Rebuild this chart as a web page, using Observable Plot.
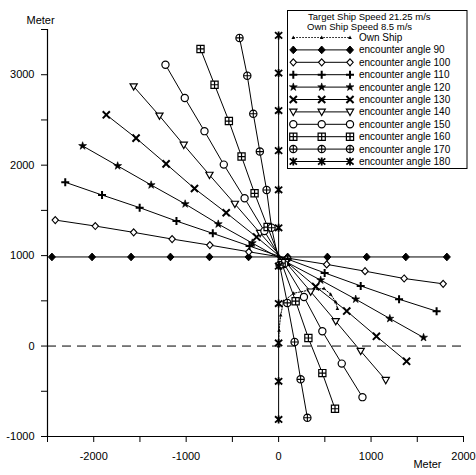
<!DOCTYPE html>
<html><head><meta charset="utf-8">
<script src="https://cdn.jsdelivr.net/npm/d3@7"></script>
<script src="https://cdn.jsdelivr.net/npm/@observablehq/plot@0.6"></script>
<style>body{margin:0;background:#fff}</style>
</head><body><div id="chart"></div>
<script>
const angles = [90,100,110,120,130,140,150,160,170,180];
const a90x = [-2452,-2018,-1596,-1170,-748,-325,98,528,953,1376,1820];
const a90y = [985,985,985,985,985,985,985,985,985,985,985];
const a100x = [-2416,-1983,-1568,-1152,-744,-322,98,520,935,1358,1780];
const a100y = [1393,1327,1257,1183,1116,1042,972,903,828,747,688];
const a110x = [-2308,-1910,-1503,-1105,-712,-314,98,498,888,1303,1709];
const a110y = [1811,1670,1530,1382,1246,1105,961,809,665,518,385];
const a120x = [-2120,-1741,-1379,-1011,-653,-285,85,455,834,1203,1568];
const a120y = [2213,1992,1781,1571,1349,1139,928,729,518,304,94];
const a130x = [-1864,-1542,-1217,-910,-567,-238,87,401,737,1058,1384];
const a130y = [2557,2299,2014,1742,1474,1205,928,657,387,108,-169];
const a140x = [-1568,-1289,-1026,-748,-473,-200,76,347,618,888,1159];
const a140y = [2870,2546,2224,1892,1571,1249,928,601,274,-55,-377];
const a150x = [-1224,-1015,-802,-593,-368,-154,60,274,473,683,907];
const a150y = [3111,2742,2376,2006,1634,1271,906,543,163,-194,-565];
const a160x = [-845,-693,-538,-401,-260,-119,33,184,322,473,610];
const a160y = [3285,2889,2488,2095,1689,1316,917,496,89,-299,-693];
const a170x = [-423,-339,-274,-203,-130,-76,11,94,173,238,311];
const a170y = [3407,2989,2568,2150,1726,1308,895,477,45,-368,-793];
const a180x = [0,0,0,0,0,0,0,0,0,0,0];
const a180y = [3435,3019,2604,2161,1728,1308,884,470,34,-390,-811];
const ownX = [0,5,22,54,163,328,491,563,618,636];
const ownY = [0,175,341,496,584,618,637,573,488,415];
const xTicks = [-2500,-2000,-1500,-1000,-500,0,500,1000,1500,2000];
const xTickLabels = [-2000,-1000,0,1000,2000];
const yTicks = [-1000,-500,0,500,1000,1500,2000,2500,3000,3500];
const yTickLabels = [-1000,0,1000,2000,3000];
const legendTitle = ["Target Ship Speed 21.25 m/s","Own Ship Speed 8.5 m/s"];
const ownLabel = "Own Ship";

const xs = [a90x,a100x,a110x,a120x,a130x,a140x,a150x,a160x,a170x,a180x];
const ys = [a90y,a100y,a110y,a120y,a130y,a140y,a150y,a160y,a170y,a180y];

const R = s => Math.sqrt(s/Math.PI);
const sym = {
  diamond:{draw(c,s){const r=R(s);c.moveTo(0,-r*1.1);c.lineTo(r,0);c.lineTo(0,r*1.1);c.lineTo(-r,0);c.closePath();}},
  plus:{draw(c,s){const r=R(s);c.moveTo(-r,0);c.lineTo(r,0);c.moveTo(0,-r);c.lineTo(0,r);}},
  times:{draw(c,s){const r=R(s)*0.85;c.moveTo(-r,-r);c.lineTo(r,r);c.moveTo(-r,r);c.lineTo(r,-r);}},
  tridown:{draw(c,s){const r=R(s);c.moveTo(-r,-r*0.75);c.lineTo(r,-r*0.75);c.lineTo(0,r);c.closePath();}},
  circle:{draw(c,s){const r=R(s);c.moveTo(r,0);c.arc(0,0,r,0,2*Math.PI);}},
  boxplus:{draw(c,s){const r=R(s)*0.9;c.moveTo(-r,-r);c.lineTo(r,-r);c.lineTo(r,r);c.lineTo(-r,r);c.closePath();c.moveTo(0,-r);c.lineTo(0,r);c.moveTo(-r,0);c.lineTo(r,0);}},
  circplus:{draw(c,s){const r=R(s);c.moveTo(r,0);c.arc(0,0,r,0,2*Math.PI);c.moveTo(-r,0);c.lineTo(r,0);c.moveTo(0,-r);c.lineTo(0,r);}},
  zhe:{draw(c,s){const r=R(s);c.moveTo(0,-r);c.lineTo(0,r);c.moveTo(-r*0.9,-r*0.8);c.lineTo(r*0.9,r*0.8);c.moveTo(-r*0.9,r*0.8);c.lineTo(r*0.9,-r*0.8);}},
  tri:{draw(c,s){const r=R(s);c.moveTo(0,-r);c.lineTo(r*0.9,r*0.7);c.lineTo(-r*0.9,r*0.7);c.closePath();}}
};
const specs = [
  {symbol:sym.diamond, fill:"black", stroke:"black", sw:1, r:3.5},
  {symbol:sym.diamond, fill:"white", stroke:"black", sw:1.1, r:3.2},
  {symbol:sym.plus, fill:"none", stroke:"black", sw:2, r:4},
  {symbol:d3.symbolStar, fill:"black", stroke:"black", sw:0.6, r:2.5},
  {symbol:sym.times, fill:"none", stroke:"black", sw:2, r:4.2},
  {symbol:sym.tridown, fill:"white", stroke:"black", sw:1.2, r:3.6},
  {symbol:sym.circle, fill:"white", stroke:"black", sw:1.2, r:3.6},
  {symbol:sym.boxplus, fill:"white", stroke:"black", sw:1.2, r:4},
  {symbol:sym.circplus, fill:"white", stroke:"black", sw:1.1, r:3.7},
  {symbol:sym.zhe, fill:"none", stroke:"black", sw:1.8, r:4}
];

const table = [];
angles.forEach((a,i) => xs[i].forEach((x,j) => table.push({angle:a, i, x, y:ys[i][j]})));
const own = ownX.map((x,j) => ({x, y:ownY[j]}));

const fmt = labels => d => labels.includes(d) ? String(d) : "";

const svg = Plot.plot({
  width: 476, height: 475,
  marginLeft: 47, marginRight: 13, marginTop: 29, marginBottom: 39,
  style: {fontFamily: "'Liberation Sans', Arial, sans-serif", fontSize: "11px", background: "white", color: "black"},
  x: {domain: [-2500, 2000], label: null},
  y: {domain: [-1000, 3500], label: null},
  marks: [
    Plot.ruleY([0], {stroke: "black", strokeDasharray: "9,6", strokeWidth: 1}),
    Plot.ruleX([-2500], {stroke: "black", strokeWidth: 1.2}),
    Plot.ruleY([-1000], {stroke: "black", strokeWidth: 1.2}),
    Plot.axisX({ticks: xTicks, tickSize: 6, tickPadding: 10, tickFormat: fmt(xTickLabels), fontSize: 11, stroke: "black"}),
    Plot.axisY({ticks: yTicks, tickSize: 6, tickPadding: 7, tickFormat: fmt(yTickLabels), fontSize: 11, stroke: "black"}),
    Plot.text(["Meter"], {frameAnchor: "top-left", dx: -21, dy: -13, fontSize: 11, fill: "black"}),
    Plot.text(["Meter"], {frameAnchor: "bottom-right", dx: -22, dy: 31, fontSize: 11, fill: "black"}),
    Plot.line(table, {x: "x", y: "y", z: "angle", stroke: "black", strokeWidth: 1}),
    Plot.line(own, {x: "x", y: "y", stroke: "black", strokeWidth: 1, strokeDasharray: "1.5,1.5"}),
    Plot.dot(own, {x: "x", y: "y", symbol: sym.tri, r: 2, fill: "black", stroke: "none"}),
    ...specs.map((s, i) => Plot.dot(table.filter(d => d.i === i), {
      x: "x", y: "y", symbol: s.symbol, r: s.r, fill: s.fill, stroke: s.stroke, strokeWidth: s.sw
    }))
  ]
});

document.getElementById("chart").appendChild(svg);

// legend
const g = d3.select(svg).append("g")
  .attr("font-family", "'Liberation Sans', Arial, sans-serif")
  .attr("font-size", 10).attr("fill", "black").attr("text-anchor", "start");
g.append("rect").attr("x", 287.5).attr("y", 10.5).attr("width", 179.5).attr("height", 158)
  .attr("fill", "white").attr("stroke", "black").attr("stroke-width", 1);
g.append("text").attr("x", 308).attr("y", 16.2).attr("dy", "0.35em").attr("font-size", 9.5).text(legendTitle[0]);
g.append("text").attr("x", 307).attr("y", 26.2).attr("dy", "0.35em").attr("font-size", 9.5).text(legendTitle[1]);
const rowY = i => 37.5 + 12.4 * i;
const lx = [293.3, 321.7, 350];
// own ship row
g.append("line").attr("x1", lx[0]).attr("x2", lx[2]).attr("y1", rowY(0)).attr("y2", rowY(0))
  .attr("stroke", "black").attr("stroke-dasharray", "1.5,1.5");
lx.forEach(x => g.append("path").attr("transform", `translate(${x},${rowY(0)})`)
  .attr("d", d3.symbol(sym.tri, 4 * Math.PI)()).attr("fill", "black"));
g.append("text").attr("x", 359).attr("y", rowY(0)).attr("dy", "0.35em").text(ownLabel);
specs.forEach((s, i) => {
  const y = rowY(i + 1);
  g.append("line").attr("x1", lx[0]).attr("x2", lx[2]).attr("y1", y).attr("y2", y)
    .attr("stroke", "black").attr("stroke-width", 1);
  lx.forEach(x => g.append("path").attr("transform", `translate(${x},${y})`)
    .attr("d", d3.symbol(s.symbol, s.r * s.r * Math.PI)())
    .attr("fill", s.fill).attr("stroke", s.stroke).attr("stroke-width", s.sw));
  g.append("text").attr("x", 359).attr("y", y).attr("dy", "0.35em").text(`encounter angle ${angles[i]}`);
});
</script>
</body></html>
